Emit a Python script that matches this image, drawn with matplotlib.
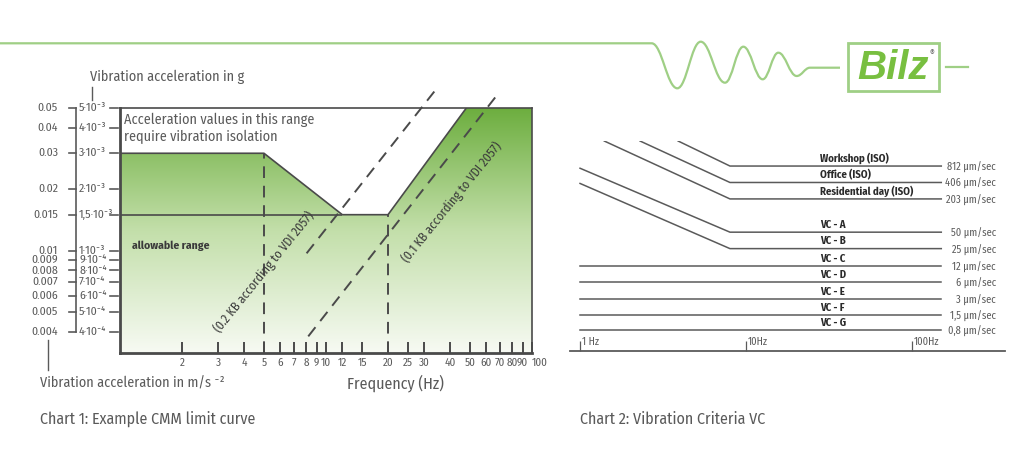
import numpy as np
import matplotlib.pyplot as plt
from matplotlib.path import Path
from matplotlib.patches import PathPatch, Polygon, Rectangle
from matplotlib.colors import LinearSegmentedColormap
from matplotlib.ticker import NullLocator

plt.rcParams['font.family'] = ['Fira Sans Condensed', 'DejaVu Sans']

# ---- chart 1 : CMM limit curve -------------------------------------------
freq_ticks = [2, 3, 4, 5, 6, 7, 8, 9, 10, 12, 15, 20, 25, 30, 40, 50, 60, 70, 80, 90, 100]
acc_ms2 = [0.05, 0.04, 0.03, 0.02, 0.015, 0.01, 0.009, 0.008, 0.007, 0.006, 0.005, 0.004]
acc_ms2_labels = ['0.05', '0.04', '0.03', '0.02', '0.015', '0.01', '0.009', '0.008',
                  '0.007', '0.006', '0.005', '0.004']
acc_g_labels = ['5·10⁻³', '4·10⁻³', '3·10⁻³', '2·10⁻³', '1,5·10⁻³', '1·10⁻³', '9·10⁻⁴',
                '8·10⁻⁴', '7·10⁻⁴', '6·10⁻⁴', '5·10⁻⁴', '4·10⁻⁴']
limit_freq = [1, 5, 12, 20, 48, 100]
limit_acc = [0.03, 0.03, 0.015, 0.015, 0.05, 0.05]
kb02_freq = [8.05, 33.9]
kb02_acc = [0.0097, 0.061]
kb01_freq = [8.2, 68.7]
kb01_acc = [0.0038, 0.059]

# ---- chart 2 : vibration criteria ----------------------------------------
vc_labels = ['Workshop (ISO)', 'Office (ISO)', 'Residential day (ISO)', 'VC - A', 'VC - B',
             'VC - C', 'VC - D', 'VC - E', 'VC - F', 'VC - G']
vc_values = [812, 406, 203, 50, 25, 12, 6, 3, 1.5, 0.8]
vc_value_labels = ['812 µm/sec', '406 µm/sec', '203 µm/sec', '50 µm/sec', '25 µm/sec',
                   '12 µm/sec', '6 µm/sec', '3 µm/sec', '1,5 µm/sec', '0,8 µm/sec']
vc_start_freq = [3.9, 2.3, 1.4, 1.0, 1.0, 1.0, 1.0, 1.0, 1.0, 1.0]
vc_start_vel = [2330, 2330, 2330, 740, 390, 12, 6, 3, 1.5, 0.8]
vc_corner_freq = 8
vc_end_freq = 150
vc_freq_ticks = [1, 10, 100]
vc_freq_labels = ['1 Hz', '10Hz', '100Hz']

dark = '#4a4a4a'
grey = '#5a5a5a'
green = '#78bf40'
light_green = '#9fcf85'

W, H = 1024, 454
fig = plt.figure(figsize=(W / 100, H / 100), dpi=100)

# chart 1 >>>>>>>>>>>>>>>>>>>>>>>>>>>>>>>>>>>>>>>>>>>>>>>>>>>>>>>>>>>>>>>>>>>
ax = fig.add_axes([120 / W, 1 - 353 / H, 412 / W, 245 / H])
ax.set_xscale('log')
ax.set_yscale('log')
ymin = 0.00315
ax.set_xlim(1, 100)
ax.set_ylim(ymin, 0.05)

cmap = LinearSegmentedColormap.from_list('grn', ['#f7faf3', '#c3dfaa', '#6dae3f'])
grad = np.linspace(0, 1, 256).reshape(-1, 1)
im = ax.imshow(grad, extent=[0, 1, 0, 1], transform=ax.transAxes, origin='lower',
               cmap=cmap, aspect='auto', zorder=0)
poly = Polygon(list(zip(limit_freq, limit_acc)) + [(100, ymin), (1, ymin)],
               closed=True, facecolor='none', edgecolor='none', transform=ax.transData)
ax.add_patch(poly)
im.set_clip_path(poly)
ax.set_xlim(1, 100)
ax.set_ylim(ymin, 0.05)

ax.plot(limit_freq[:5], limit_acc[:5], color=dark, lw=1.2, zorder=3)
ax.hlines(0.015, 1, 12, color=dark, lw=1.2, zorder=3)
ax.vlines(5, ymin, 0.03, color=dark, lw=1.4, linestyles=(0, (6, 4)), zorder=3)
ax.vlines(20, ymin, 0.015, color=dark, lw=1.4, linestyles=(0, (6, 4)), zorder=3)
ax.plot(kb02_freq, kb02_acc, color=dark, lw=1.4, ls=(0, (6, 4)), clip_on=False, zorder=3)
ax.plot(kb01_freq, kb01_acc, color=dark, lw=1.4, ls=(0, (6, 4)), clip_on=False, zorder=3)

ax.text(5.02, 0.0079, '(0.2 KB according to VDI 2057)', rotation=51, rotation_mode='anchor',
        ha='center', va='center', fontsize=9, color='#3a3a3a', zorder=4)
ax.text(41, 0.0173, '(0.1 KB according to VDI 2057)', rotation=51, rotation_mode='anchor',
        ha='center', va='center', fontsize=9, color='#3a3a3a', zorder=4)
ax.text(1.05, 0.0475, 'Acceleration values in this range\nrequire vibration isolation',
        ha='left', va='top', fontsize=10.2, color=grey, linespacing=1.25)
ax.text(1.14, 0.0106, 'allowable range', ha='left', va='center', fontsize=8.3,
        fontweight='bold', color='#3a3a3a')

for side in ['left', 'bottom']:
    ax.spines[side].set_linewidth(2)
    ax.spines[side].set_color(dark)
for side in ['top', 'right']:
    ax.spines[side].set_linewidth(1.2)
    ax.spines[side].set_color(dark)

ax.yaxis.set_major_locator(NullLocator())
ax.yaxis.set_minor_locator(NullLocator())
ax.set_xticks(freq_ticks, labels=[str(f) for f in freq_ticks])
ax.xaxis.set_minor_locator(NullLocator())
ax.tick_params(axis='x', direction='in', length=8, width=1.4, color=dark,
               labelsize=8, labelcolor=grey, pad=3)
# last label sits just right of its tick, as in the original
ax.get_xticklabels()[-1].set_horizontalalignment('left')

# the two value columns left of the chart
yt = ax.get_yaxis_transform()
def axx(px):
    return (px - 120) / 412
for v, l1, l2 in zip(acc_ms2, acc_ms2_labels, acc_g_labels):
    ax.text(axx(58), v, l1, transform=yt, ha='right', va='center', fontsize=8.5,
            color=grey, clip_on=False)
    ax.plot([axx(69), axx(76)], [v, v], transform=yt, color=grey, lw=1.2, clip_on=False)
    ax.text(axx(79), v, l2, transform=yt, ha='left', va='center', fontsize=8.5,
            color=grey, clip_on=False)
    ax.plot([axx(110), axx(118)], [v, v], transform=yt, color=grey, lw=1.2, clip_on=False)
ax.plot([axx(76), axx(76)], [acc_ms2[-1], acc_ms2[0]], transform=yt, color=grey, lw=1.2,
        clip_on=False)
# <<<<<<<<<<<<<<<<<<<<<<<<<<<<<<<<<<<<<<<<<<<<<<<<<<<<<<<<<<<<<<<<<<<<<<<<<<

# chart 2 >>>>>>>>>>>>>>>>>>>>>>>>>>>>>>>>>>>>>>>>>>>>>>>>>>>>>>>>>>>>>>>>>>>
ax2 = fig.add_axes([570 / W, 1 - 351 / H, 435 / W, 210 / H])
ax2.set_xscale('log')
ax2.set_yscale('log')
ax2.set_xlim(0.87, 363)
ax2.set_ylim(0.334, 2333)
for lab, v, vlab, f0, v0 in zip(vc_labels, vc_values, vc_value_labels, vc_start_freq, vc_start_vel):
    ax2.plot([f0, vc_corner_freq, vc_end_freq], [v0, v, v], color=grey, lw=1.1)
    ax2.annotate(lab, (28, v), xytext=(0, 1.5), textcoords='offset points', ha='left',
                 va='bottom', fontsize=7.7, fontweight='bold', color='#2a2a2a')
    ax2.annotate(vlab, (320, v), xytext=(0, -1), textcoords='offset points', ha='right',
                 va='center', fontsize=7.5, color=grey)
for side in ['left', 'right', 'top']:
    ax2.spines[side].set_visible(False)
ax2.spines['bottom'].set_linewidth(1.3)
ax2.spines['bottom'].set_color(grey)
ax2.yaxis.set_major_locator(NullLocator())
ax2.yaxis.set_minor_locator(NullLocator())
ax2.set_xticks(vc_freq_ticks, labels=['', '', ''])
ax2.xaxis.set_minor_locator(NullLocator())
ax2.tick_params(axis='x', direction='in', length=7, width=0.9, color=grey)
for f, lab in zip(vc_freq_ticks, vc_freq_labels):
    ax2.annotate(lab, (f, 0), xycoords=('data', 'axes fraction'), xytext=(1.5, 2.5),
                 textcoords='offset points', ha='left', va='bottom', fontsize=7.5, color=grey)
# <<<<<<<<<<<<<<<<<<<<<<<<<<<<<<<<<<<<<<<<<<<<<<<<<<<<<<<<<<<<<<<<<<<<<<<<<<

# page decoration + captions (pixel coordinates) >>>>>>>>>>>>>>>>>>>>>>>>>>>
deco = fig.add_axes([0, 0, 1, 1], zorder=5)
deco.set_xlim(0, W)
deco.set_ylim(H, 0)
deco.axis('off')
deco.patch.set_alpha(0)

wave_pts = [(651.7, 43.3), (677.3, 88.3), (700.7, 41.7), (725, 82.7), (743.3, 46.7),
            (762.7, 79.3), (778.3, 52.7), (796.7, 76), (810, 67.7)]
verts = [(0, 43.3), wave_pts[0]]
codes = [Path.MOVETO, Path.LINETO]
for (xa, ya), (xb, yb) in zip(wave_pts[:-1], wave_pts[1:]):
    d = (xb - xa) * 0.4
    verts += [(xa + d, ya), (xb - d, yb), (xb, yb)]
    codes += [Path.CURVE4] * 3
verts.append((840, 67.7))
codes.append(Path.LINETO)
deco.add_patch(PathPatch(Path(verts, codes), facecolor='none', edgecolor=light_green, lw=1.6))
deco.add_patch(Rectangle((848, 43), 91, 48, facecolor='none', edgecolor=light_green, lw=2))
deco.plot([946, 968], [67.3, 67.3], color=light_green, lw=1.6)
deco.text(893, 68, 'Bilz', ha='center', va='center', fontsize=29, fontweight='bold',
          fontstyle='italic', family='Liberation Sans', color=green)
deco.text(932, 53, '®', ha='center', va='center', fontsize=6, color=grey)

deco.text(90, 77, 'Vibration acceleration in g', ha='left', va='center', fontsize=10.2,
          color=grey)
deco.plot([92, 92], [87, 100], color=grey, lw=1)
deco.text(40, 383, 'Vibration acceleration in m/s ⁻²', ha='left', va='center', fontsize=10.2,
          color=grey)
deco.plot([48, 48], [340, 370], color=grey, lw=1)
deco.text(347, 383, 'Frequency (Hz)', ha='left', va='center', fontsize=11.5, color=grey)
deco.text(40, 419, 'Chart 1: Example CMM limit curve', ha='left', va='center', fontsize=11.5,
          color=grey)
deco.text(580, 419, 'Chart 2: Vibration Criteria VC', ha='left', va='center', fontsize=11.5,
          color=grey)

plt.savefig('out.png', dpi=100)
